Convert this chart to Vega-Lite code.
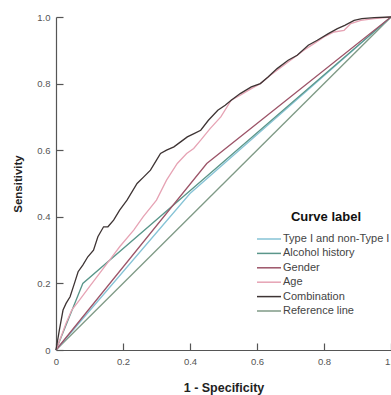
{
  "$schema": "https://vega.github.io/schema/vega-lite/v6.json",
  "width": 335,
  "height": 333,
  "autosize": {"type": "none"},
  "padding": {"left": 56, "top": 17, "right": 0, "bottom": 45},
  "background": "white",
  "config": {"view": {"stroke": null}, "font": "Liberation Sans"},
  "data": {
    "values": [
      {"series": "Reference line", "o": 0, "x": 0, "y": 0},
      {"series": "Reference line", "o": 1, "x": 1, "y": 1},
      {"series": "Type I and non-Type I", "o": 0, "x": 0, "y": 0},
      {"series": "Type I and non-Type I", "o": 1, "x": 0.40, "y": 0.47},
      {"series": "Type I and non-Type I", "o": 2, "x": 1, "y": 1},
      {"series": "Alcohol history", "o": 0, "x": 0, "y": 0},
      {"series": "Alcohol history", "o": 1, "x": 0.08, "y": 0.2},
      {"series": "Alcohol history", "o": 2, "x": 1, "y": 1},
      {"series": "Gender", "o": 0, "x": 0, "y": 0},
      {"series": "Gender", "o": 1, "x": 0.45, "y": 0.56},
      {"series": "Gender", "o": 2, "x": 1, "y": 1},
      {"series": "Age", "o": 0, "x": 0, "y": 0},
      {"series": "Age", "o": 1, "x": 0.015, "y": 0.04},
      {"series": "Age", "o": 2, "x": 0.03, "y": 0.08},
      {"series": "Age", "o": 3, "x": 0.047, "y": 0.12},
      {"series": "Age", "o": 4, "x": 0.07, "y": 0.15},
      {"series": "Age", "o": 5, "x": 0.1, "y": 0.19},
      {"series": "Age", "o": 6, "x": 0.13, "y": 0.23},
      {"series": "Age", "o": 7, "x": 0.16, "y": 0.27},
      {"series": "Age", "o": 8, "x": 0.19, "y": 0.31},
      {"series": "Age", "o": 9, "x": 0.232, "y": 0.36},
      {"series": "Age", "o": 10, "x": 0.26, "y": 0.4},
      {"series": "Age", "o": 11, "x": 0.3, "y": 0.45},
      {"series": "Age", "o": 12, "x": 0.33, "y": 0.51},
      {"series": "Age", "o": 13, "x": 0.362, "y": 0.56},
      {"series": "Age", "o": 14, "x": 0.39, "y": 0.59},
      {"series": "Age", "o": 15, "x": 0.411, "y": 0.605},
      {"series": "Age", "o": 16, "x": 0.432, "y": 0.63},
      {"series": "Age", "o": 17, "x": 0.46, "y": 0.665},
      {"series": "Age", "o": 18, "x": 0.492, "y": 0.7},
      {"series": "Age", "o": 19, "x": 0.523, "y": 0.75},
      {"series": "Age", "o": 20, "x": 0.55, "y": 0.765},
      {"series": "Age", "o": 21, "x": 0.583, "y": 0.785},
      {"series": "Age", "o": 22, "x": 0.61, "y": 0.8},
      {"series": "Age", "o": 23, "x": 0.64, "y": 0.825},
      {"series": "Age", "o": 24, "x": 0.673, "y": 0.85},
      {"series": "Age", "o": 25, "x": 0.7, "y": 0.87},
      {"series": "Age", "o": 26, "x": 0.74, "y": 0.9},
      {"series": "Age", "o": 27, "x": 0.77, "y": 0.92},
      {"series": "Age", "o": 28, "x": 0.8, "y": 0.94},
      {"series": "Age", "o": 29, "x": 0.83, "y": 0.955},
      {"series": "Age", "o": 30, "x": 0.86, "y": 0.96},
      {"series": "Age", "o": 31, "x": 0.88, "y": 0.98},
      {"series": "Age", "o": 32, "x": 0.91, "y": 0.99},
      {"series": "Age", "o": 33, "x": 0.95, "y": 0.995},
      {"series": "Age", "o": 34, "x": 1, "y": 1},
      {"series": "Combination", "o": 0, "x": 0, "y": 0},
      {"series": "Combination", "o": 1, "x": 0.01, "y": 0.06},
      {"series": "Combination", "o": 2, "x": 0.021, "y": 0.12},
      {"series": "Combination", "o": 3, "x": 0.03, "y": 0.14},
      {"series": "Combination", "o": 4, "x": 0.042, "y": 0.16},
      {"series": "Combination", "o": 5, "x": 0.055, "y": 0.2},
      {"series": "Combination", "o": 6, "x": 0.066, "y": 0.235},
      {"series": "Combination", "o": 7, "x": 0.08, "y": 0.255},
      {"series": "Combination", "o": 8, "x": 0.095, "y": 0.28},
      {"series": "Combination", "o": 9, "x": 0.112, "y": 0.3},
      {"series": "Combination", "o": 10, "x": 0.125, "y": 0.34},
      {"series": "Combination", "o": 11, "x": 0.142, "y": 0.37},
      {"series": "Combination", "o": 12, "x": 0.155, "y": 0.37},
      {"series": "Combination", "o": 13, "x": 0.172, "y": 0.39},
      {"series": "Combination", "o": 14, "x": 0.19, "y": 0.42},
      {"series": "Combination", "o": 15, "x": 0.212, "y": 0.45},
      {"series": "Combination", "o": 16, "x": 0.242, "y": 0.5},
      {"series": "Combination", "o": 17, "x": 0.262, "y": 0.52},
      {"series": "Combination", "o": 18, "x": 0.282, "y": 0.54},
      {"series": "Combination", "o": 19, "x": 0.3, "y": 0.57},
      {"series": "Combination", "o": 20, "x": 0.312, "y": 0.59},
      {"series": "Combination", "o": 21, "x": 0.33, "y": 0.6},
      {"series": "Combination", "o": 22, "x": 0.352, "y": 0.61},
      {"series": "Combination", "o": 23, "x": 0.372, "y": 0.625},
      {"series": "Combination", "o": 24, "x": 0.392, "y": 0.64},
      {"series": "Combination", "o": 25, "x": 0.412, "y": 0.65},
      {"series": "Combination", "o": 26, "x": 0.432, "y": 0.66},
      {"series": "Combination", "o": 27, "x": 0.455, "y": 0.69},
      {"series": "Combination", "o": 28, "x": 0.483, "y": 0.72},
      {"series": "Combination", "o": 29, "x": 0.505, "y": 0.735},
      {"series": "Combination", "o": 30, "x": 0.523, "y": 0.75},
      {"series": "Combination", "o": 31, "x": 0.55, "y": 0.77},
      {"series": "Combination", "o": 32, "x": 0.583, "y": 0.79},
      {"series": "Combination", "o": 33, "x": 0.61, "y": 0.8},
      {"series": "Combination", "o": 34, "x": 0.633, "y": 0.82},
      {"series": "Combination", "o": 35, "x": 0.66, "y": 0.845},
      {"series": "Combination", "o": 36, "x": 0.693, "y": 0.87},
      {"series": "Combination", "o": 37, "x": 0.72, "y": 0.885},
      {"series": "Combination", "o": 38, "x": 0.753, "y": 0.915},
      {"series": "Combination", "o": 39, "x": 0.78, "y": 0.93},
      {"series": "Combination", "o": 40, "x": 0.813, "y": 0.95},
      {"series": "Combination", "o": 41, "x": 0.84, "y": 0.965},
      {"series": "Combination", "o": 42, "x": 0.862, "y": 0.975},
      {"series": "Combination", "o": 43, "x": 0.89, "y": 0.99},
      {"series": "Combination", "o": 44, "x": 0.913, "y": 0.995},
      {"series": "Combination", "o": 45, "x": 0.95, "y": 0.998},
      {"series": "Combination", "o": 46, "x": 1, "y": 1}
    ]
  },
  "mark": {"type": "line", "strokeWidth": 1.3, "clip": false},
  "encoding": {
    "x": {
      "field": "x", "type": "quantitative",
      "scale": {"domain": [0, 1], "nice": false, "zero": false},
      "axis": {
        "title": "1 - Specificity",
        "values": [0, 0.2, 0.4, 0.6, 0.8, 1],
        "labelExpr": "datum.value == 0 ? '0' : format(datum.value, '.1f')",
        "grid": false,
        "domainColor": "#555", "domainWidth": 1.2,
        "tickColor": "#555", "tickWidth": 1.2, "tickSize": -7,
        "labelPadding": 13,
        "labelFont": "Liberation Sans", "labelFontSize": 9.5, "labelColor": "#555",
        "labelFlush": false, "labelOverlap": false,
        "titleFont": "Liberation Sans", "titleFontSize": 12.5, "titleFontWeight": "bold", "titleColor": "#222",
        "titlePadding": 16
      }
    },
    "y": {
      "field": "y", "type": "quantitative",
      "scale": {"domain": [0, 1], "nice": false, "zero": false},
      "axis": {
        "title": "Sensitivity",
        "values": [0, 0.2, 0.4, 0.6, 0.8, 1],
        "labelExpr": "datum.value == 0 ? '0' : format(datum.value, '.1f')",
        "grid": false,
        "domainColor": "#555", "domainWidth": 1.2,
        "tickColor": "#555", "tickWidth": 1.2, "tickSize": -7,
        "labelPadding": 13,
        "labelFont": "Liberation Sans", "labelFontSize": 9.5, "labelColor": "#555",
        "labelFlush": false, "labelOverlap": false,
        "titleFont": "Liberation Sans", "titleFontSize": 11.5, "titleFontWeight": "bold", "titleColor": "#222",
        "titlePadding": 13
      }
    },
    "color": {
      "field": "series", "type": "nominal",
      "scale": {
        "domain": ["Type I and non-Type I", "Alcohol history", "Gender", "Age", "Combination", "Reference line"],
        "range": ["#86c3d6", "#5a968a", "#9c5468", "#e6a3b4", "#3e3434", "#7f9a86"]
      },
      "legend": {
        "title": "Curve label",
        "orient": "none", "legendX": 206, "legendY": 194,
        "padding": 0,
        "titleFont": "Liberation Sans", "titleFontSize": 13, "titleFontWeight": "bold", "titleColor": "#111",
        "titleAnchor": "middle", "titlePadding": 8,
        "labelFont": "Liberation Sans", "labelFontSize": 11, "labelColor": "#444",
        "labelOffset": 7, "labelLimit": 300,
        "symbolType": "M-2,0H2", "symbolSize": 144, "symbolStrokeWidth": 1.5,
        "rowPadding": 2.4
      }
    },
    "order": {"field": "o", "type": "quantitative"}
  }
}
